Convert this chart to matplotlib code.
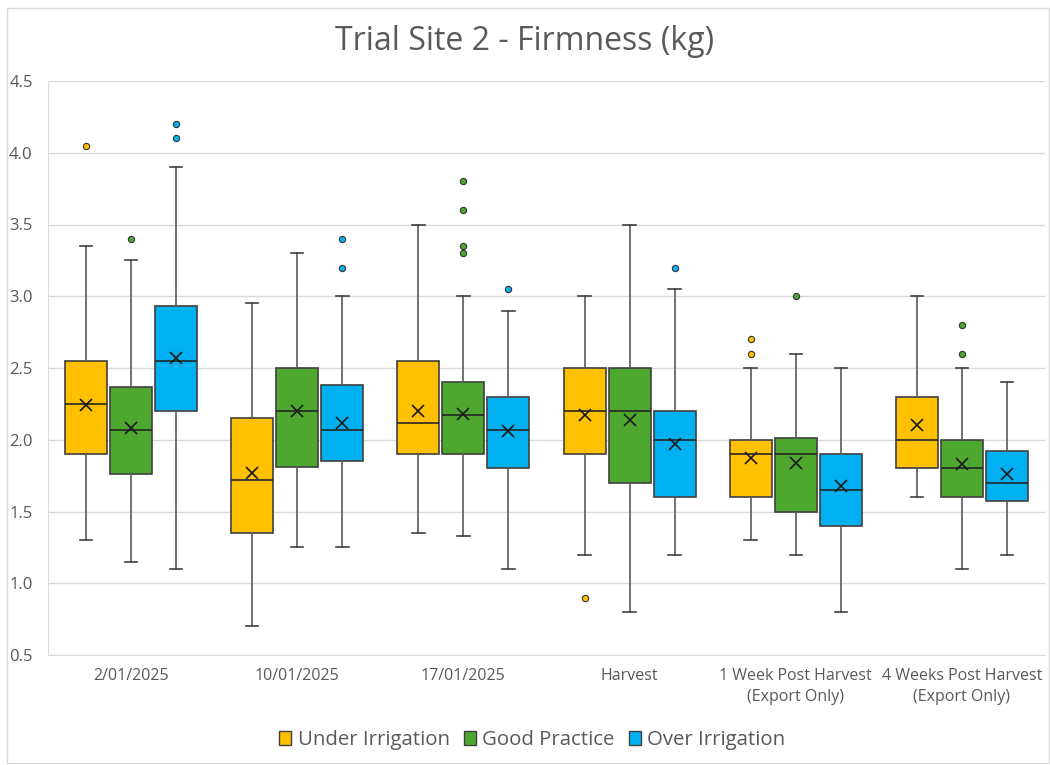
import matplotlib
matplotlib.use("Agg")
import matplotlib.pyplot as plt
from matplotlib.patches import Patch, Rectangle

plt.rcParams['font.family'] = ['Open Sans', 'DejaVu Sans']

categories = ["2/01/2025", "10/01/2025", "17/01/2025", "Harvest",
              "1 Week Post Harvest\n(Export Only)", "4 Weeks Post Harvest\n(Export Only)"]
series_names = ["Under Irrigation", "Good Practice", "Over Irrigation"]
series_colors = ["#FFC000", "#4EA72E", "#00B0F0"]

# five-number summaries per series, one entry per category
under_whislo = [1.30, 0.70, 1.35, 1.20, 1.30, 1.60]
under_q1     = [1.90, 1.35, 1.90, 1.90, 1.60, 1.80]
under_med    = [2.25, 1.72, 2.12, 2.20, 1.90, 2.00]
under_q3     = [2.55, 2.15, 2.55, 2.50, 2.00, 2.30]
under_whishi = [3.35, 2.95, 3.50, 3.00, 2.50, 3.00]
under_mean   = [2.24, 1.77, 2.20, 2.17, 1.87, 2.10]
under_fliers = [[4.05], [], [], [0.90], [2.70, 2.60], []]

good_whislo = [1.15, 1.25, 1.33, 0.80, 1.20, 1.10]
good_q1     = [1.76, 1.81, 1.90, 1.70, 1.50, 1.60]
good_med    = [2.07, 2.20, 2.17, 2.20, 1.90, 1.80]
good_q3     = [2.37, 2.50, 2.40, 2.50, 2.01, 2.00]
good_whishi = [3.25, 3.30, 3.00, 3.50, 2.60, 2.50]
good_mean   = [2.08, 2.20, 2.18, 2.14, 1.84, 1.83]
good_fliers = [[3.40], [], [3.80, 3.60, 3.35, 3.30], [], [3.00], [2.80, 2.60]]

over_whislo = [1.10, 1.25, 1.10, 1.20, 0.80, 1.20]
over_q1     = [2.20, 1.85, 1.80, 1.60, 1.40, 1.57]
over_med    = [2.55, 2.07, 2.07, 2.00, 1.65, 1.70]
over_q3     = [2.93, 2.38, 2.30, 2.20, 1.90, 1.92]
over_whishi = [3.90, 3.00, 2.90, 3.05, 2.50, 2.40]
over_mean   = [2.57, 2.12, 2.06, 1.97, 1.68, 1.76]
over_fliers = [[4.20, 4.10], [3.40, 3.20], [3.05], [3.20], [], []]

y_ticks = [0.5, 1.0, 1.5, 2.0, 2.5, 3.0, 3.5, 4.0, 4.5]

series_data = [
    (under_whislo, under_q1, under_med, under_q3, under_whishi, under_mean, under_fliers),
    (good_whislo, good_q1, good_med, good_q3, good_whishi, good_mean, good_fliers),
    (over_whislo, over_q1, over_med, over_q3, over_whishi, over_mean, over_fliers),
]

fig = plt.figure(figsize=(10.5, 7.65), dpi=100)
ax = fig.add_axes([48 / 1050, 1 - 655 / 765, 997 / 1050, 574 / 765])

text_color = "#595959"
grid_color = "#D9D9D9"
offsets = [-0.271, 0.0, 0.271]
box_w = 0.253

for s, (wlo, q1, med, q3, whi, mean, fl) in enumerate(series_data):
    stats = []
    for i in range(len(categories)):
        stats.append(dict(whislo=wlo[i], q1=q1[i], med=med[i], q3=q3[i],
                          whishi=whi[i], mean=mean[i], fliers=fl[i]))
    positions = [i + offsets[s] for i in range(len(categories))]
    ax.bxp(stats, positions=positions, widths=box_w, patch_artist=True,
           showmeans=True, showfliers=True,
           boxprops=dict(facecolor=series_colors[s], edgecolor="#404040", linewidth=1.2),
           medianprops=dict(color="#262626", linewidth=1.2),
           whiskerprops=dict(color="#595959", linewidth=1.2),
           capprops=dict(color="#404040", linewidth=1.2),
           capwidths=0.075,
           meanprops=dict(marker="x", markeredgecolor="#1a1a1a", markersize=8.5,
                          markeredgewidth=1.2),
           flierprops=dict(marker="o", markerfacecolor=series_colors[s],
                           markeredgecolor="#333333", markersize=4.5,
                           markeredgewidth=0.8))

ax.set_xlim(-0.5, len(categories) - 0.5)
ax.set_ylim(0.5, 4.5)
ax.set_yticks(y_ticks)
ax.set_yticklabels([f"{v:.1f}" for v in y_ticks])
ax.set_xticks(range(len(categories)))
ax.set_xticklabels(categories, linespacing=1.45)
ax.tick_params(axis="both", length=0, colors=text_color)
ax.tick_params(axis="x", pad=9, labelsize=11.5)
ax.tick_params(axis="y", pad=11, labelsize=12)
ax.yaxis.grid(True, color=grid_color, linewidth=1.0)
ax.set_axisbelow(True)
for side in ["top", "right"]:
    ax.spines[side].set_visible(False)
ax.spines["left"].set_color(grid_color)
ax.spines["bottom"].set_color(grid_color)

fig.text(0.5, 1 - 42 / 765, "Trial Site 2 - Firmness (kg)", ha="center", va="center",
         fontsize=23, color=text_color)

handles = [Patch(facecolor=c, edgecolor="#404040", linewidth=1.0) for c in series_colors]
fig.legend(handles, series_names, loc="center", bbox_to_anchor=(0.507, 1 - 740 / 765),
           ncol=3, frameon=False, fontsize=14.7, labelcolor=text_color,
           handlelength=0.6, handleheight=0.7, handletextpad=0.3, columnspacing=0.7)

fig.patches.append(Rectangle((7 / 1050, 0.002), 1 - 8 / 1050, 1 - 8 / 765 - 0.002,
                             transform=fig.transFigure, fill=False,
                             edgecolor="#D9D9D9", linewidth=1.0))

fig.savefig("out.png", dpi=100, facecolor="white")
